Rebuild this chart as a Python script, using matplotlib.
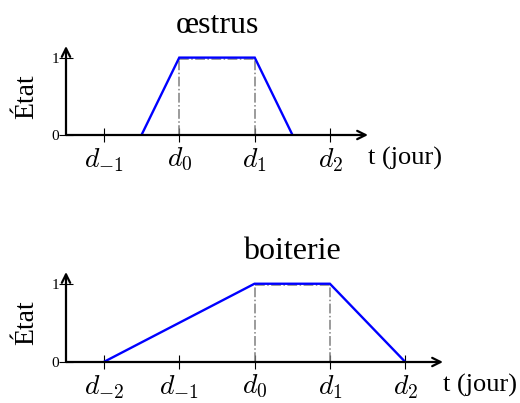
import matplotlib
matplotlib.use('Agg')
import matplotlib.pyplot as plt

plt.rcParams['font.family'] = ['Liberation Serif', 'DejaVu Serif']
plt.rcParams['mathtext.fontset'] = 'cm'

# données (d0 = 0, une unité = un jour)
oestrus_t = [-0.5, 0, 1, 1.5]
oestrus_etat = [0, 1, 1, 0]
oestrus_ticks = [-1, 0, 1, 2]
oestrus_labels = [r'$d_{-1}$', r'$d_0$', r'$d_1$', r'$d_2$']

boiterie_t = [-2, 0, 1, 2]
boiterie_etat = [0, 1, 1, 0]
boiterie_ticks = [-2, -1, 0, 1, 2]
boiterie_labels = [r'$d_{-2}$', r'$d_{-1}$', r'$d_0$', r'$d_1$', r'$d_2$']

plateau_t = [0, 1]   # d0 .. d1
gris_haut = 0.98

W, H = 520, 403
fig = plt.figure(figsize=(W / 100, H / 100), dpi=100)


def panneau(rect_px, xlim, t, etat, ticks, labels, titre):
    l, r, b, top = rect_px
    ax = fig.add_axes([l / W, 1 - b / H, (r - l) / W, (b - top) / H])
    ax.set_xlim(*xlim)
    ax.set_ylim(0, 1.15)
    for s in ax.spines.values():
        s.set_visible(False)

    # axes avec flèches
    for fin in [(1, 0), (0, 1)]:
        ax.annotate('', xy=fin, xytext=(0, 0), xycoords='axes fraction',
                    arrowprops=dict(arrowstyle='->', lw=1.6, color='k', shrinkA=0, shrinkB=0,
                                    mutation_scale=15))

    # pointillés gris
    ax.plot([plateau_t[0], plateau_t[0]], [0, gris_haut], color='#808080', ls='-.', lw=1.1)
    ax.plot([plateau_t[1], plateau_t[1]], [0, gris_haut], color='#808080', ls='-.', lw=1.1)
    ax.plot(plateau_t, [gris_haut, gris_haut], color='#808080', ls='-.', lw=1.1)

    ax.plot(t, etat, color='blue', lw=1.7, solid_joinstyle='miter')

    ax.set_xticks(ticks)
    ax.set_xticklabels(labels, fontsize=20)
    ax.tick_params(axis='x', direction='inout', length=10, width=0.8, pad=3)
    ax.set_yticks([0, 1])
    ax.set_yticklabels(['0', '1'], fontsize=11)
    ax.tick_params(axis='y', direction='inout', length=10, width=0.8, pad=0)

    ax.annotate('t (jour)', xy=(1, 0), xycoords='axes fraction', xytext=(0, -17),
                textcoords='offset points', ha='left', va='center', fontsize=19)
    ax.annotate('État', xy=(0, 0.5), xycoords=('axes fraction', 'data'), xytext=(-28, 0),
                textcoords='offset points', ha='center', va='center', rotation=90, fontsize=20)
    ax.annotate(titre, xy=(0.5, 1.15), xycoords='data', xytext=(0, 15),
                textcoords='offset points', ha='center', va='center', fontsize=23)
    return ax


panneau((66, 368, 135, 46), (-1.5, 2.5), oestrus_t, oestrus_etat,
        oestrus_ticks, oestrus_labels, 'œstrus')
panneau((66, 443, 362, 272), (-2.5, 2.5), boiterie_t, boiterie_etat,
        boiterie_ticks, boiterie_labels, 'boiterie')

fig.savefig('out.png', dpi=100)
